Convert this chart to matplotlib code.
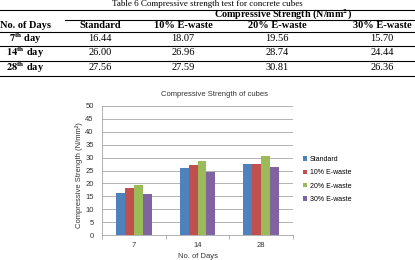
import matplotlib
matplotlib.use("Agg")
import matplotlib.pyplot as plt
from matplotlib.lines import Line2D
import numpy as np

plt.rcParams['mathtext.fontset'] = 'stix'

# data
days = ["7", "14", "28"]
row_labels = [r"$\mathbf{7^{th}}$ day", r"$\mathbf{14^{th}}$ day", r"$\mathbf{28^{th}}$ day"]
series = ["Standard", "10% E-waste", "20% E-waste", "30% E-waste"]
standard = [16.44, 26.00, 27.56]
ewaste10 = [18.07, 26.96, 27.59]
ewaste20 = [19.56, 28.74, 30.81]
ewaste30 = [15.70, 24.44, 26.36]
colors = ["#4F81BD", "#C0504D", "#9BBB59", "#8064A2"]

W, H = 415, 260
fig = plt.figure(figsize=(W / 100, H / 100), dpi=100)


def fx(x):
    return x / W


def fy(y):
    return 1 - y / H


def hline(y, x0=0, x1=W, lw=0.8):
    fig.add_artist(Line2D([fx(x0), fx(x1)], [fy(y), fy(y)], transform=fig.transFigure,
                          color="black", lw=lw))


serif = "Liberation Serif"
# table
fig.text(fx(207), fy(0.5), "Table 6 Compressive strength test for concrete cubes",
         ha="center", va="top", family=serif, fontsize=6.5)
hline(9.5)
fig.text(fx(283), fy(15.2), r"Compressive Strength (N/mm$^{\mathbf{2}}$)", ha="center", va="center",
         family=serif, fontsize=7.3, fontweight="bold")
hline(19.5, x0=65)
col_x = [100, 183, 277, 382]
fig.text(fx(25), fy(26), "No. of Days", ha="center", va="center", family=serif,
         fontsize=7.5, fontweight="bold")
for cx, name in zip(col_x, series):
    fig.text(fx(cx), fy(26), name, ha="center", va="center", family=serif,
             fontsize=7.5, fontweight="bold")
hline(32)
row_y = [38.5, 53, 68]
line_y = [45.5, 60.5, 76]
table_vals = list(zip(standard, ewaste10, ewaste20, ewaste30))
for ry, ly, lab, vals in zip(row_y, line_y, row_labels, table_vals):
    fig.text(fx(25), fy(ry), lab, ha="center", va="center", family=serif,
             fontsize=7.5, fontweight="bold")
    for cx, v in zip(col_x, vals):
        fig.text(fx(cx), fy(ry), "%.2f" % v, ha="center", va="center", family=serif, fontsize=7.5)
    hline(ly)

# chart
sans = "Liberation Sans"
ax = fig.add_axes([fx(102), fy(235), fx(293 - 102), (235 - 106) / H])
x = np.arange(len(days))
bw = 0.14
for i, (vals, c, name) in enumerate(zip([standard, ewaste10, ewaste20, ewaste30], colors, series)):
    ax.bar(x + (i - 1.5) * bw, vals, bw, color=c, label=name, zorder=3)

ax.set_xlim(-0.5, 2.5)
ax.set_ylim(0, 50)
ax.set_yticks(range(0, 51, 5))
ax.grid(axis="y", color="#a6a6a6", lw=0.6, zorder=0)
ax.set_xticks(x)
ax.set_xticklabels(days)
ax.set_xticks([-0.5, 0.5, 1.5, 2.5], minor=True)
ax.tick_params(axis="x", which="major", length=0, pad=5)
ax.tick_params(axis="x", which="minor", length=3, color="#a6a6a6", width=0.6)
ax.tick_params(axis="y", length=0, pad=6)
ax.tick_params(labelsize=5.5, labelcolor="#333333")
for lab in ax.get_xticklabels() + ax.get_yticklabels():
    lab.set_family(sans)
for s in ["top", "right"]:
    ax.spines[s].set_visible(False)
for s in ["left", "bottom"]:
    ax.spines[s].set_color("#a6a6a6")
    ax.spines[s].set_linewidth(0.6)

fig.text(fx(214), fy(94), "Compressive Strength of cubes", ha="center", va="center",
         family=sans, fontsize=5.5, color="#333333")
fig.text(fx(198), fy(256), "No. of Days", ha="center", va="center",
         family=sans, fontsize=5.5, color="#333333")
fig.text(fx(79), fy(175), "Compressive Strength (N/mm\u00b2)", ha="center", va="center",
         rotation=90, family=sans, fontsize=5.5, color="#333333")

ax.legend(loc="upper left", bbox_to_anchor=(fx(303), fy(156)), bbox_transform=fig.transFigure,
          frameon=False, prop={"family": sans, "size": 5}, handlelength=0.6, handleheight=0.6,
          handletextpad=0.4, labelspacing=0.9, borderaxespad=0, borderpad=0)

fig.savefig("out.png", dpi=100)
